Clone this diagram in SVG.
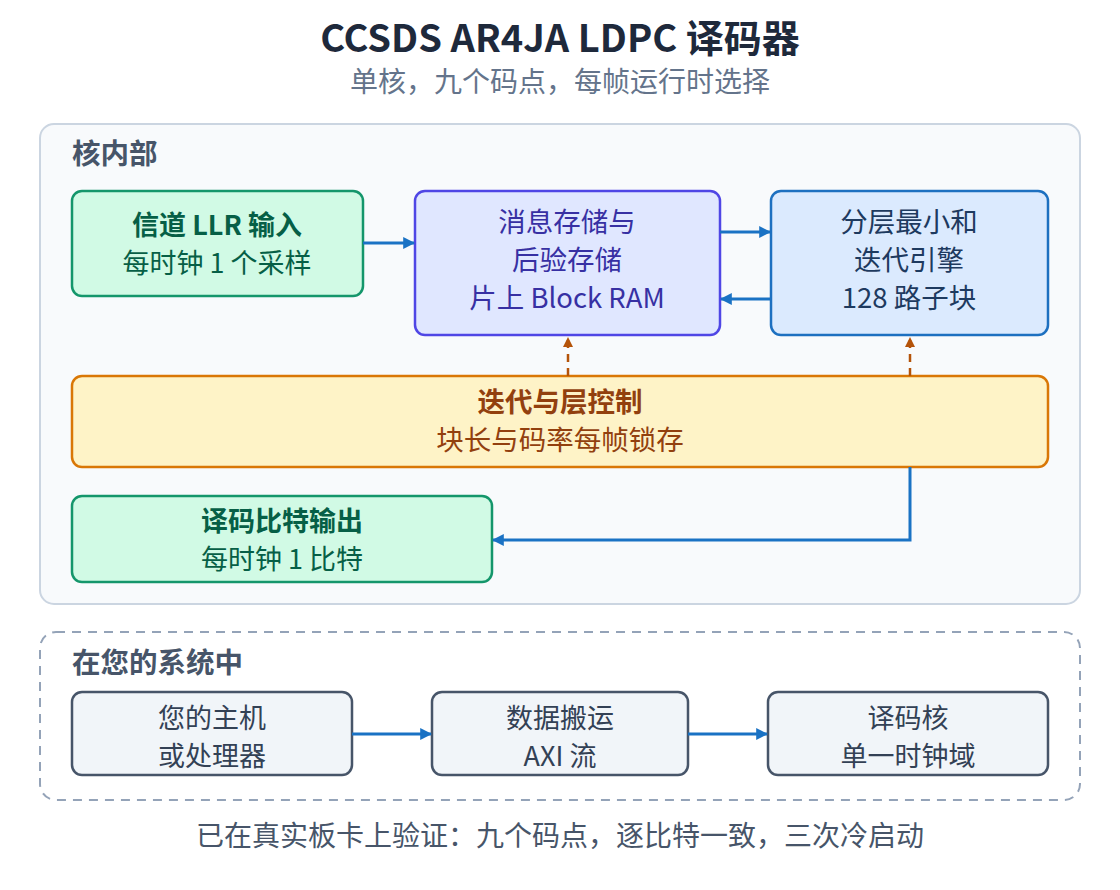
<svg xmlns="http://www.w3.org/2000/svg" width="1120" height="890" viewBox="0 0 1120 890">
<defs>
<style>
text{font-family:"Noto Sans CJK SC","Noto Sans",sans-serif;text-anchor:middle}
.title{font-size:38px;font-weight:700;fill:#1e293b}
.sub{font-size:28px;fill:#64748b}
.sec{font-size:28.5px;font-weight:700;fill:#475569;text-anchor:start}
.t{font-size:27.5px}
.s{font-size:27px}
.b{font-weight:700}
.green rect{fill:#d1fae5;stroke:#14966b;stroke-width:2.5}
.green text{fill:#065f46}
.indigo rect{fill:#e0e7ff;stroke:#4f46e5;stroke-width:2.5}
.indigo text{fill:#3730a3}
.blue rect{fill:#dbeafe;stroke:#1d70c0;stroke-width:2.5}
.blue text{fill:#1e3a5f}
.amber rect{fill:#fef3c7;stroke:#d97706;stroke-width:2.5}
.amber text{fill:#92400e}
.sys rect{fill:#f1f5f9;stroke:#475569;stroke-width:2.5}
.sys text{fill:#334155}
.flow{stroke:#1a72c4;stroke-width:3;fill:none}
.ctl{stroke:#b45309;stroke-width:2.5;fill:none;stroke-dasharray:8,6}
</style>
<marker id="ab" viewBox="0 0 10 10" refX="9" refY="5" markerWidth="4" markerHeight="4" orient="auto"><path d="M0,0 L10,5 L0,10 z" fill="#1a72c4"/></marker>
<marker id="ao" viewBox="0 0 10 10" refX="9" refY="5" markerWidth="4" markerHeight="4" orient="auto"><path d="M0,0 L10,5 L0,10 z" fill="#b45309"/></marker>
</defs>
<rect width="1120" height="890" fill="#ffffff"/>
<text class="title" x="560" y="52">CCSDS AR4JA LDPC 译码器</text>
<text class="sub" x="560" y="92">单核，九个码点，每帧运行时选择</text>

<g id="core">
<rect x="40" y="124" width="1040" height="480" rx="14" fill="#f8fafc" stroke="#cbd5e1" stroke-width="2"/>
<text class="sec" x="72" y="164">核内部</text>
</g>

<g id="llr-in" class="green">
<rect x="72" y="191" width="291" height="105" rx="10"/>
<text class="s b" x="217" y="235">信道 LLR 输入</text>
<text class="s" x="217" y="273">每时钟 1 个采样</text>
</g>
<g id="mem" class="indigo">
<rect x="415" y="191" width="305" height="144" rx="10"/>
<text class="t" x="567" y="232">消息存储与</text>
<text class="t" x="567" y="270">后验存储</text>
<text class="t" x="567" y="308">片上 Block RAM</text>
</g>
<g id="engine" class="blue">
<rect x="771" y="191" width="277" height="144" rx="10"/>
<text class="t" x="909" y="232">分层最小和</text>
<text class="t" x="909" y="270">迭代引擎</text>
<text class="t" x="909" y="308">128 路子块</text>
</g>
<g id="control" class="amber">
<rect x="72" y="376" width="976" height="91" rx="10"/>
<text class="t b" x="560" y="412">迭代与层控制</text>
<text class="t" x="560" y="450">块长与码率每帧锁存</text>
</g>
<g id="bits-out" class="green">
<rect x="72" y="496" width="420" height="86" rx="10"/>
<text class="s b" x="282" y="531">译码比特输出</text>
<text class="s" x="282" y="569">每时钟 1 比特</text>
</g>

<g id="system">
<rect x="40" y="632" width="1040" height="168" rx="16" fill="none" stroke="#94a3b8" stroke-width="2" stroke-dasharray="9,7"/>
<text class="sec" x="72" y="673">在您的系统中</text>
</g>
<g id="host" class="sys">
<rect x="72" y="692" width="280" height="83" rx="10"/>
<text class="s" x="212" y="728">您的主机</text>
<text class="s" x="212" y="766">或处理器</text>
</g>
<g id="axi" class="sys">
<rect x="432" y="692" width="256" height="83" rx="10"/>
<text class="s" x="560" y="728">数据搬运</text>
<text class="s" x="560" y="766">AXI 流</text>
</g>
<g id="dec-core" class="sys">
<rect x="768" y="692" width="280" height="83" rx="10"/>
<text class="s" x="908" y="728">译码核</text>
<text class="s" x="908" y="766">单一时钟域</text>
</g>

<g id="connectors">
<path class="flow" d="M363,243 L414,243" marker-end="url(#ab)"/>
<path class="flow" d="M720,232 L770,232" marker-end="url(#ab)"/>
<path class="flow" d="M771,299 L721,299" marker-end="url(#ab)"/>
<path class="ctl" d="M568,376 L568,338" marker-end="url(#ao)"/>
<path class="ctl" d="M910,376 L910,338" marker-end="url(#ao)"/>
<path class="flow" d="M910,467 L910,540 L493,540" marker-end="url(#ab)"/>
<path class="flow" d="M352,734 L431,734" marker-end="url(#ab)"/>
<path class="flow" d="M688,734 L767,734" marker-end="url(#ab)"/>
</g>

<text x="560" y="846" style="font-size:28px;fill:#475569">已在真实板卡上验证：九个码点，逐比特一致，三次冷启动</text>
</svg>
